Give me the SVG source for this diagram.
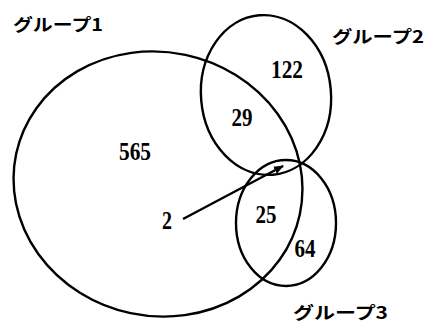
<svg xmlns="http://www.w3.org/2000/svg" width="427" height="323" viewBox="0 0 427 323">
<style>
.set{fill:none;stroke:#000;stroke-width:2.4}
.lbl{font-family:"Noto Sans CJK JP","Noto Sans",sans-serif;font-weight:bold;font-size:17px;fill:#000}
.num{font-family:"Liberation Serif",serif;font-weight:bold;font-size:25px;fill:#000;text-anchor:middle}
</style>
<defs>
<marker id="ah" markerWidth="10" markerHeight="8" refX="9" refY="4" orient="auto" markerUnits="userSpaceOnUse">
<path d="M0,0 L10,4 L0,8 Z" fill="#000"/>
</marker>
</defs>
<rect width="427" height="323" fill="#fff"/>
<g id="group1">
<ellipse class="set" cx="158" cy="184" rx="145" ry="132" transform="rotate(12 158 184)"/>
<text class="lbl" x="13" y="31" textLength="90" lengthAdjust="spacingAndGlyphs">グループ1</text>
</g>
<g id="group2">
<ellipse class="set" cx="266" cy="95" rx="65" ry="80" transform="rotate(-5 266 95)"/>
<text class="lbl" x="332" y="43" textLength="92" lengthAdjust="spacingAndGlyphs">グループ2</text>
</g>
<g id="group3">
<ellipse class="set" cx="286" cy="223" rx="50" ry="63"/>
<text class="lbl" x="293" y="319" textLength="95" lengthAdjust="spacingAndGlyphs">グループ3</text>
</g>
<g id="counts">
<text class="num" x="135" y="160" textLength="32" lengthAdjust="spacingAndGlyphs">565</text>
<text class="num" x="287" y="78" textLength="32" lengthAdjust="spacingAndGlyphs">122</text>
<text class="num" x="242" y="126" textLength="21" lengthAdjust="spacingAndGlyphs">29</text>
<text class="num" x="266" y="223" textLength="21" lengthAdjust="spacingAndGlyphs">25</text>
<text class="num" x="305" y="257" textLength="21" lengthAdjust="spacingAndGlyphs">64</text>
<text class="num" x="167" y="229" textLength="10" lengthAdjust="spacingAndGlyphs">2</text>
</g>
<g id="connectors">
<line x1="183" y1="219" x2="283" y2="166" stroke="#000" stroke-width="2.4" marker-end="url(#ah)"/>
</g>
</svg>
